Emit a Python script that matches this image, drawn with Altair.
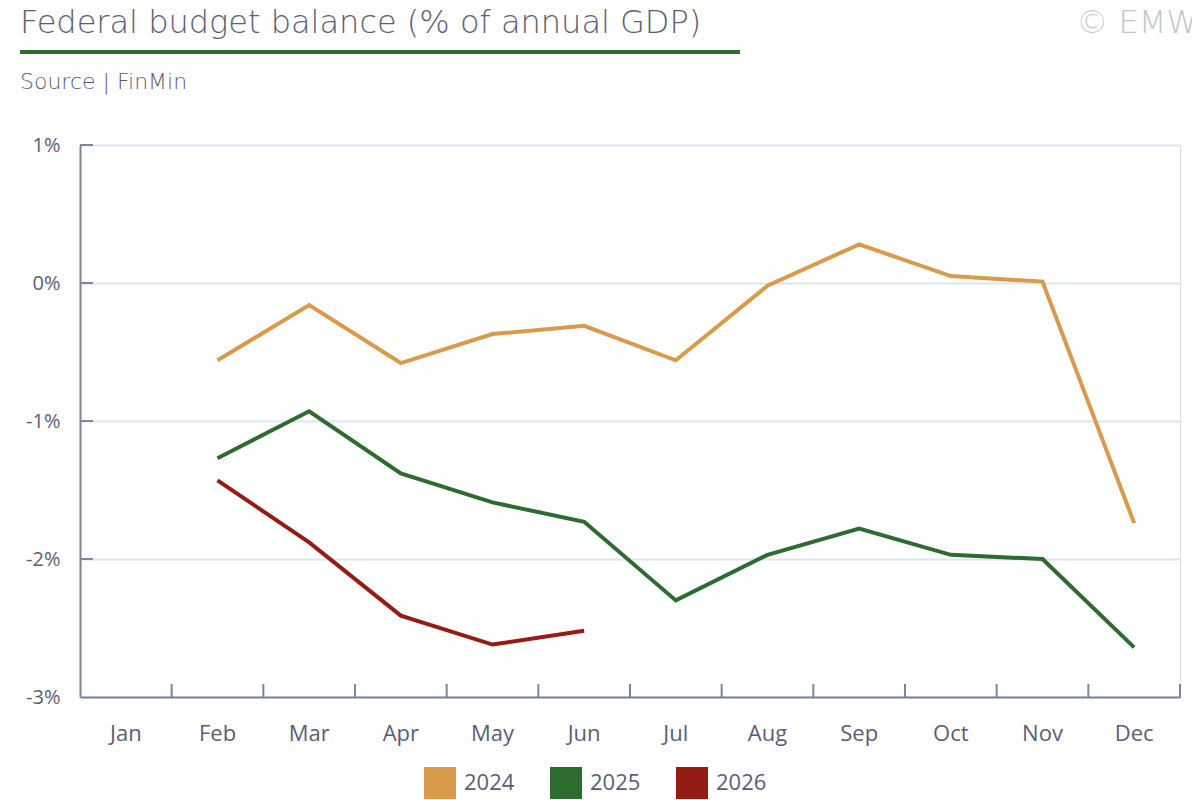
import altair as alt
import pandas as pd

months = ["Jan", "Feb", "Mar", "Apr", "May", "Jun", "Jul", "Aug", "Sep", "Oct", "Nov", "Dec"]
years = ["2024", "2025", "2026"]
v2024 = [None, -0.56, -0.16, -0.58, -0.37, -0.31, -0.56, -0.02, 0.28, 0.05, 0.01, -1.74]
v2025 = [None, -1.27, -0.93, -1.38, -1.59, -1.73, -2.30, -1.97, -1.78, -1.97, -2.00, -2.64]
v2026 = [None, -1.43, -1.88, -2.41, -2.62, -2.52, None, None, None, None, None, None]
colors = ["#d99a4b", "#2e6b2e", "#951c14"]
y_ticks = [-3, -2, -1, 0, 1]

TFONT = "Open Sans"
HFONT = "DejaVu Sans"
TXT = "#5b5e73"
AX = "#7d8596"
W, H = 1100, 552

rows = []
for yr, vals in zip(years, [v2024, v2025, v2026]):
    for m, v in zip(months, vals):
        if v is not None:
            rows.append({"month": m, "year": yr, "value": v})
df = pd.DataFrame(rows)

xscale = alt.Scale(type="band", domain=months, paddingInner=0, paddingOuter=0)
yscale = alt.Scale(domain=[-3, 1], nice=False, zero=False)

lines = alt.Chart(df).mark_line(strokeWidth=4, strokeJoin="miter").encode(
    x=alt.X("month:O", scale=xscale, bandPosition=0.5, title=None,
            axis=alt.Axis(domainColor=AX, domainWidth=2, tickSize=0, labelPadding=26,
                          labelFontSize=22, labelColor=TXT, labelFont=TFONT,
                          labelAngle=0, grid=False)),
    y=alt.Y("value:Q", scale=yscale, title=None,
            axis=alt.Axis(values=y_ticks, labelExpr="datum.value + '%'", domainColor=AX,
                          domainWidth=2, tickSize=0, labelPadding=20, labelFontSize=20,
                          labelColor=TXT, labelFont=TFONT,
                          grid=True, gridColor="#dde6f0", gridWidth=2)),
    color=alt.Color("year:N", scale=alt.Scale(domain=years, range=colors),
                    legend=alt.Legend(title=None, orient="none", legendX=344, legendY=622,
                                      direction="horizontal", symbolType="square",
                                      symbolSize=100, symbolStrokeWidth=22, symbolOpacity=1,
                                      labelFontSize=22, labelFont=TFONT,
                                      labelColor=TXT, labelOffset=8, columnPadding=2)),
)

ytick_df = pd.DataFrame({"v": y_ticks[1:]})
yticks = alt.Chart(ytick_df).mark_rule(color=AX, strokeWidth=2).encode(
    y=alt.Y("v:Q", scale=yscale), x=alt.value(0), x2=alt.value(13)
)

xtick_df = pd.DataFrame({"month": months[1:]})
xticks = alt.Chart(xtick_df).mark_rule(color=AX, strokeWidth=2).encode(
    x=alt.X("month:O", scale=xscale, bandPosition=0), y=alt.value(H - 13), y2=alt.value(H)
)
xtick_end = alt.Chart(pd.DataFrame({"month": months[-1:]})).mark_rule(color=AX, strokeWidth=2).encode(
    x=alt.X("month:O", scale=xscale, bandPosition=1), y=alt.value(H - 13), y2=alt.value(H)
)

one = pd.DataFrame({"a": [0]})
title = alt.Chart(one).mark_text(text="Federal budget balance (% of annual GDP)", align="left",
                                 baseline="alphabetic", fontSize=32, font=HFONT,
                                 fontWeight=200, color=TXT).encode(
    x=alt.value(-60), y=alt.value(-112))
underline = alt.Chart(one).mark_rule(color="#2e6b2e", strokeWidth=4).encode(
    x=alt.value(-60), x2=alt.value(660), y=alt.value(-93))
source = alt.Chart(one).mark_text(text="Source | FinMin", align="left", baseline="alphabetic",
                                  fontSize=22, font=HFONT, fontWeight=200, color=TXT).encode(
    x=alt.value(-60), y=alt.value(-56))
copy = alt.Chart(one).mark_text(text="© EMW", align="right", baseline="alphabetic",
                                fontSize=32, font=HFONT, fontWeight=200, color="#c3c6cc").encode(
    x=alt.value(1118), y=alt.value(-112))

chart = alt.layer(lines, yticks, xticks, xtick_end, title, underline, source, copy).properties(
    width=W, height=H, autosize=alt.AutoSizeParams(type="none"),
    padding={"left": 72, "top": 137, "right": 12, "bottom": 111},
).configure_view(stroke=None).configure(background="white")

chart.save("out.html", embed_options={"renderer": "svg", "actions": False})
